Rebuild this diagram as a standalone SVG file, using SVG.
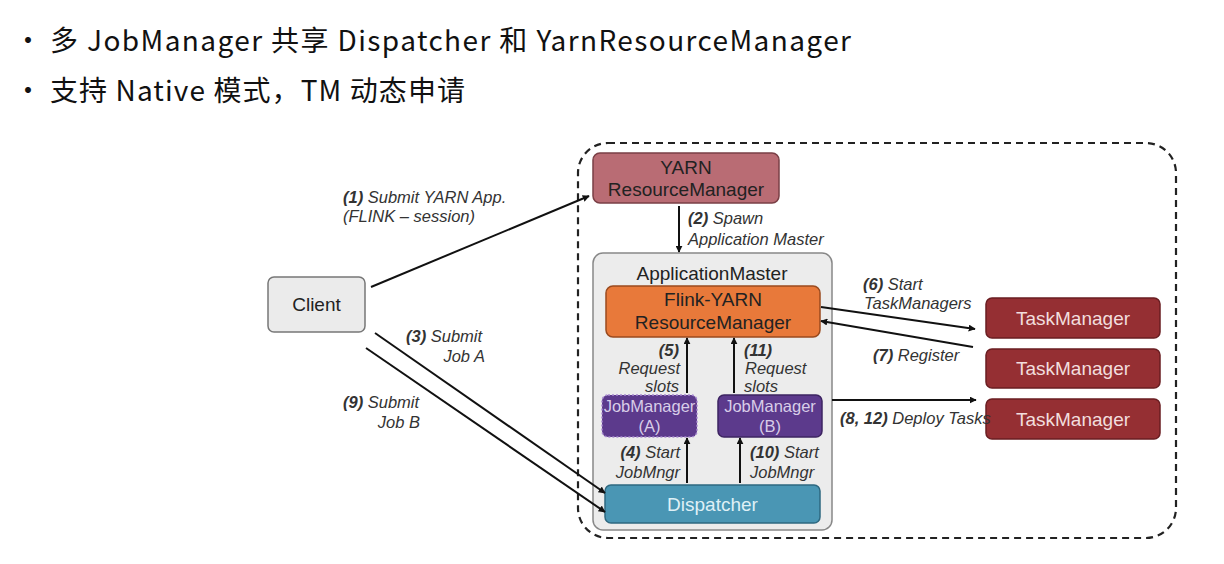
<svg xmlns="http://www.w3.org/2000/svg" width="1224" height="564" viewBox="0 0 1224 564">
<defs>
<marker id="ah" viewBox="0 0 10 10" refX="9" refY="5" markerWidth="7" markerHeight="7" markerUnits="userSpaceOnUse" orient="auto">
<path d="M0,0 L10,5 L0,10 z" fill="#111"/>
</marker>
<style>
.hdr{font-family:"Noto Sans CJK SC","Noto Sans",sans-serif;font-size:28px;fill:#111}
.lbl{font-family:"Liberation Sans",Arial,sans-serif;font-size:16.5px;font-style:italic;fill:#333}
.lbl tspan.b{font-weight:bold}
.nt{font-family:"Liberation Sans",Arial,sans-serif;font-size:19px;text-anchor:middle}
.jm{font-family:"Liberation Sans",Arial,sans-serif;font-size:16.5px;text-anchor:middle;fill:#d8cde8}
.ln{stroke:#111;stroke-width:2;fill:none;marker-end:url(#ah)}
</style>
</defs>
<rect width="1224" height="564" fill="#fff"/>
<g id="header">
<text class="hdr" x="14" y="51">•</text>
<text class="hdr" x="50" y="51" letter-spacing="1.4">多 JobManager 共享 Dispatcher 和 YarnResourceManager</text>
<text class="hdr" x="14" y="101">•</text>
<text class="hdr" x="50" y="101" letter-spacing="1.1">支持 Native 模式，TM 动态申请</text>
</g>
<g id="boundary">
<rect x="578" y="143" width="598" height="395" rx="30" fill="none" stroke="#222" stroke-width="2.2" stroke-dasharray="7,5"/>
</g>
<g id="client">
<rect x="268" y="277" width="97" height="55" rx="6" fill="#ebebeb" stroke="#777" stroke-width="1.5"/>
<text class="nt" x="316.5" y="311" fill="#222">Client</text>
</g>
<g id="yarn-rm">
<rect x="593" y="153" width="186" height="50" rx="7" fill="#b96c74" stroke="#7a3f45" stroke-width="1.5"/>
<text class="nt" x="686" y="174" fill="#222">YARN</text>
<text class="nt" x="686" y="196" fill="#222">ResourceManager</text>
</g>
<g id="application-master">
<rect x="593" y="253" width="239" height="277" rx="10" fill="#ececec" stroke="#888" stroke-width="1.5"/>
<text class="nt" x="712" y="280" fill="#222">ApplicationMaster</text>
</g>
<g id="flink-yarn-rm">
<rect x="606" y="286" width="214" height="51" rx="7" fill="#e8793a" stroke="#9a4a1e" stroke-width="1.5"/>
<text class="nt" x="713" y="306" fill="#222">Flink-YARN</text>
<text class="nt" x="713" y="329" fill="#222">ResourceManager</text>
</g>
<g id="jobmanager-a">
<rect x="602" y="395" width="95" height="42" rx="6" fill="#5c3a8c" stroke="#a88bd0" stroke-width="1.5" stroke-dasharray="2,2"/>
<text class="jm" x="649.5" y="412">JobManager</text>
<text class="jm" x="649.5" y="432">(A)</text>
</g>
<g id="jobmanager-b">
<rect x="718" y="395" width="104" height="42" rx="6" fill="#5c3a8c" stroke="#3d2461" stroke-width="1.5"/>
<text class="jm" x="770" y="412">JobManager</text>
<text class="jm" x="770" y="432">(B)</text>
</g>
<g id="dispatcher">
<rect x="605" y="485" width="215" height="38" rx="6" fill="#4a96b4" stroke="#2e6880" stroke-width="1.5"/>
<text class="nt" x="712.5" y="511" fill="#dff0f6">Dispatcher</text>
</g>
<g id="taskmanager-1">
<rect x="986" y="298" width="174" height="40" rx="6" fill="#952f33" stroke="#6a1e22" stroke-width="1.5"/>
<text class="nt" x="1073" y="325" fill="#f2dede">TaskManager</text>
</g>
<g id="taskmanager-2">
<rect x="986" y="349" width="174" height="39" rx="6" fill="#952f33" stroke="#6a1e22" stroke-width="1.5"/>
<text class="nt" x="1073" y="375" fill="#f2dede">TaskManager</text>
</g>
<g id="taskmanager-3">
<rect x="986" y="399" width="174" height="40" rx="6" fill="#952f33" stroke="#6a1e22" stroke-width="1.5"/>
<text class="nt" x="1073" y="426" fill="#f2dede">TaskManager</text>
</g>
<g id="connectors">
<line class="ln" x1="371" y1="287" x2="589" y2="196"/>
<line class="ln" x1="679" y1="206" x2="679" y2="252"/>
<line class="ln" x1="375" y1="333" x2="605" y2="493"/>
<line class="ln" x1="366" y1="348" x2="605" y2="512"/>
<line class="ln" x1="687" y1="483" x2="687" y2="438"/>
<line class="ln" x1="740" y1="483" x2="740" y2="438"/>
<line class="ln" x1="687" y1="393" x2="687" y2="338"/>
<line class="ln" x1="734" y1="393" x2="734" y2="338"/>
<line class="ln" x1="821" y1="307" x2="975" y2="329"/>
<line class="ln" x1="973" y1="347" x2="821" y2="321"/>
<line class="ln" x1="832" y1="400" x2="976" y2="400"/>
</g>
<g id="labels">
<text class="lbl" x="343" y="203"><tspan class="b">(1)</tspan> Submit YARN App.</text>
<text class="lbl" x="343" y="222">(FLINK – session)</text>
<text class="lbl" x="688" y="224"><tspan class="b">(2)</tspan> Spawn</text>
<text class="lbl" x="688" y="245">Application Master</text>
<text class="lbl" x="406" y="342"><tspan class="b">(3)</tspan> Submit</text>
<text class="lbl" x="485" y="362" text-anchor="end">Job A</text>
<text class="lbl" x="343" y="408"><tspan class="b">(9)</tspan> Submit</text>
<text class="lbl" x="420" y="428" text-anchor="end">Job B</text>
<text class="lbl" x="679" y="356" text-anchor="end"><tspan class="b">(5)</tspan></text>
<text class="lbl" x="680" y="374" text-anchor="end">Request</text>
<text class="lbl" x="679" y="392" text-anchor="end">slots</text>
<text class="lbl" x="744" y="356"><tspan class="b">(11)</tspan></text>
<text class="lbl" x="745" y="374">Request</text>
<text class="lbl" x="744" y="392">slots</text>
<text class="lbl" x="680" y="458" text-anchor="end"><tspan class="b">(4)</tspan> Start</text>
<text class="lbl" x="680" y="478" text-anchor="end">JobMngr</text>
<text class="lbl" x="750" y="458"><tspan class="b">(10)</tspan> Start</text>
<text class="lbl" x="750" y="478">JobMngr</text>
<text class="lbl" x="863" y="290"><tspan class="b">(6)</tspan> Start</text>
<text class="lbl" x="864" y="309">TaskManagers</text>
<text class="lbl" x="873" y="361"><tspan class="b">(7)</tspan> Register</text>
<text class="lbl" x="840" y="424"><tspan class="b">(8, 12)</tspan> Deploy Tasks</text>
</g>
</svg>
